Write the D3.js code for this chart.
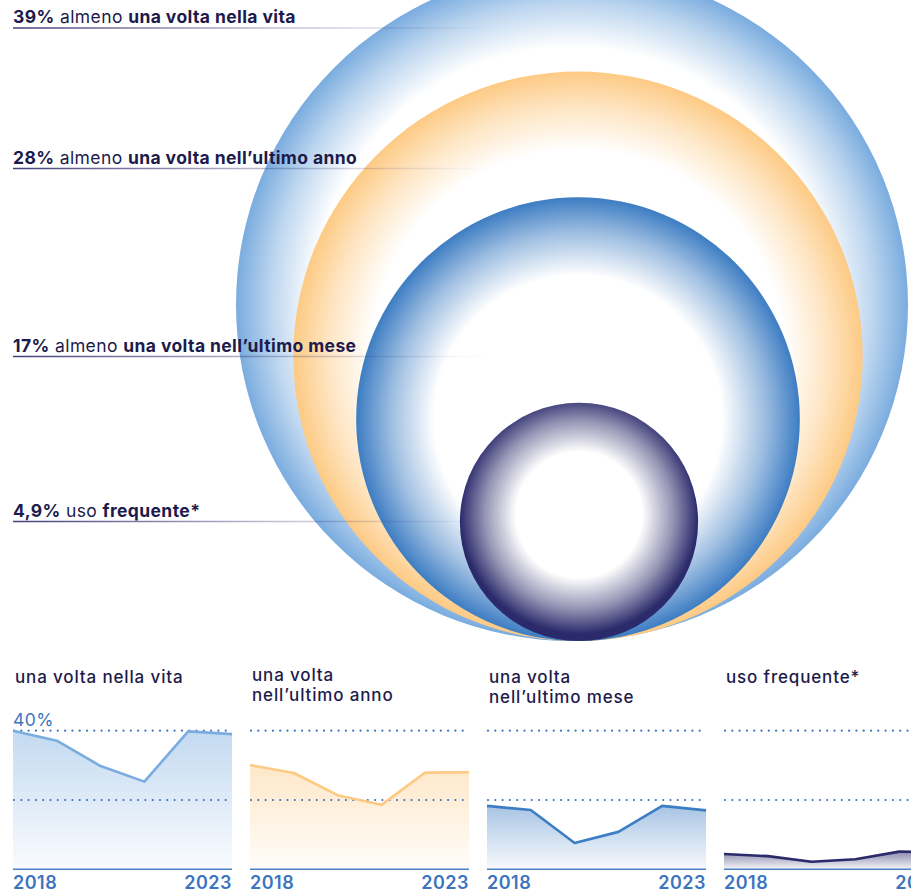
<!DOCTYPE html>
<html>
<head>
<meta charset="utf-8">
<script src="https://cdn.jsdelivr.net/npm/d3@7"></script>
<style>
  html, body { margin: 0; padding: 0; background: #fff; }
  svg { display: block; font-family: Inter, "Noto Sans", sans-serif; }
</style>
</head>
<body>
<svg id="chart" width="911" height="895"></svg>
<script>
// Share of people who ever used, used in the last year, last month, frequently
const headlineValues = [39, 28, 17, 4.9];
const headlineLabels = ["39%", "28%", "17%", "4,9%"];
const headlinePrefix = ["almeno", "almeno", "almeno", "uso"];
const headlineBold = ["una volta nella vita", "una volta nell’ultimo anno", "una volta nell’ultimo mese", "frequente*"];
const ringColors = ["#7aacdf", "#fdca84", "#3d7dc3", "#2b2a6b"];

// Trend 2018–2023 for each indicator (percent)
const years = [2018, 2019, 2020, 2021, 2022, 2023];
const trendLifetime = [40, 37.1, 29.8, 25.3, 39.8, 39];
const trendLastYear = [30.1, 27.8, 21.4, 18.6, 27.9, 28];
const trendLastMonth = [18.3, 17.1, 7.6, 10.8, 18.3, 17];
const trendFrequent = [4.4, 3.8, 2.2, 2.9, 5.1, 4.9];
const panelTitles = [["una volta nella vita"], ["una volta", "nell’ultimo anno"], ["una volta", "nell’ultimo mese"], ["uso frequente*"]];
const gridTicks = [20, 40];
const yearLabels = ["2018", "2023"];

const svg = d3.select("#chart");
const defs = svg.append("defs");
const ink = "#1d1b4c";
const axisBlue = "#3d74c0";

// ---------- nested circles (area proportional to value) ----------
const r = d3.scaleSqrt().domain([0, 39]).range([0, 336]);
const baseY = 641;
const centerX = [572, 578, 578, 579];

headlineValues.forEach((v, i) => {
  const rad = r(v);
  const g = defs.append("radialGradient").attr("id", "ring" + i)
    .attr("cx", "50%").attr("cy", i === 3 ? "47%" : "50%").attr("r", "50%");
  const fade = i === 3 ? 0.47 : 78 / rad;
  g.append("stop").attr("offset", 0).attr("stop-color", "#fff");
  g.append("stop").attr("offset", Math.max(0, 1 - fade)).attr("stop-color", "#fff");
  g.append("stop").attr("offset", 1 - fade * 0.45)
    .attr("stop-color", d3.interpolateRgb("#fff", ringColors[i])(0.5));
  g.append("stop").attr("offset", 1).attr("stop-color", ringColors[i]);
});

const ringsBack = svg.append("g");
const labelLayer = svg.append("g");
const ringsFront = svg.append("g");

headlineValues.forEach((v, i) => {
  const target = i === 3 ? ringsFront : ringsBack;
  target.append("circle")
    .attr("cx", centerX[i])
    .attr("cy", baseY - r(v))
    .attr("r", r(v))
    .attr("fill", `url(#ring${i})`);
});

// ---------- headline labels with fading rules ----------
const ruleGrad = defs.append("linearGradient").attr("id", "rule")
  .attr("gradientUnits", "userSpaceOnUse").attr("x1", 13).attr("x2", 488).attr("y1", 0).attr("y2", 0);
ruleGrad.append("stop").attr("offset", 0).attr("stop-color", "#2b2a6b").attr("stop-opacity", 0.9);
ruleGrad.append("stop").attr("offset", 0.55).attr("stop-color", "#2b2a6b").attr("stop-opacity", 0.3);
ruleGrad.append("stop").attr("offset", 1).attr("stop-color", "#2b2a6b").attr("stop-opacity", 0);

const ruleY = [28, 168.5, 356.5, 521.5];
headlineValues.forEach((v, i) => {
  labelLayer.append("line")
    .attr("x1", 13).attr("x2", 488)
    .attr("y1", ruleY[i]).attr("y2", ruleY[i])
    .attr("stroke", "url(#rule)").attr("stroke-width", 1.4);
  const t = labelLayer.append("text")
    .attr("x", 13).attr("y", ruleY[i] - 5)
    .attr("fill", ink).attr("font-size", 17.5).attr("letter-spacing", 0.4);
  t.append("tspan").attr("font-weight", 700).text(headlineLabels[i]);
  t.append("tspan").attr("font-weight", 400).text(" " + headlinePrefix[i] + " ");
  t.append("tspan").attr("font-weight", 700).text(headlineBold[i]);
});

// ---------- small multiples ----------
const trends = [trendLifetime, trendLastYear, trendLastMonth, trendFrequent];
const panelW = 219, panelStep = 237, panelX0 = 13;
const y = d3.scaleLinear().domain([0, 40]).range([869.3, 730.7]);

trends.forEach((series, i) => {
  const x0 = panelX0 + i * panelStep;
  const x = d3.scalePoint().domain(years).range([x0, x0 + panelW]);
  const g = svg.append("g");
  const col = ringColors[i];

  const ag = defs.append("linearGradient").attr("id", "area" + i)
    .attr("x1", 0).attr("x2", 0).attr("y1", 0).attr("y2", 1);
  ag.append("stop").attr("offset", 0).attr("stop-color", col).attr("stop-opacity", i === 3 ? 0.55 : 0.45);
  ag.append("stop").attr("offset", 1).attr("stop-color", col).attr("stop-opacity", 0.04);

  const pts = years.map((yr, j) => [yr, series[j]]);
  g.append("path")
    .attr("d", d3.area().x(d => x(d[0])).y0(y(0)).y1(d => y(d[1]))(pts))
    .attr("fill", `url(#area${i})`);

  gridTicks.forEach(t => {
    g.append("line")
      .attr("x1", x0 + 1).attr("x2", x0 + panelW)
      .attr("y1", y(t)).attr("y2", y(t))
      .attr("stroke", axisBlue).attr("stroke-width", 2.2)
      .attr("stroke-linecap", "round")
      .attr("stroke-dasharray", "0 7.3");
  });

  g.append("path")
    .attr("d", d3.line().x(d => x(d[0])).y(d => y(d[1]))(pts))
    .attr("fill", "none").attr("stroke", col).attr("stroke-width", 2.6)
    .attr("stroke-linejoin", "round");

  g.append("line")
    .attr("x1", x0).attr("x2", x0 + panelW)
    .attr("y1", y(0)).attr("y2", y(0))
    .attr("stroke", "#4a80c6").attr("stroke-width", 1.6);

  const titleTop = i === 1 ? 681 : 683;
  panelTitles[i].forEach((line, k) => {
    g.append("text")
      .attr("x", x0 + 2)
      .attr("y", titleTop + k * 19.5)
      .attr("fill", ink).attr("font-size", 17).attr("font-weight", 500)
      .attr("letter-spacing", 0.85)
      .text(line);
  });

  g.append("text").attr("x", x0).attr("y", 889)
    .attr("fill", axisBlue).attr("font-size", 18).attr("font-weight", 600)
    .attr("letter-spacing", 0.5)
    .text(yearLabels[0]);
  g.append("text").attr("x", x0 + panelW).attr("y", 889)
    .attr("text-anchor", "end")
    .attr("fill", axisBlue).attr("font-size", 18).attr("font-weight", 600)
    .attr("letter-spacing", 0.5)
    .text(yearLabels[1]);

  if (i === 0) {
    g.append("text").attr("x", x0).attr("y", y(40) - 5)
      .attr("fill", axisBlue).attr("font-size", 17.5).attr("font-weight", 400)
      .attr("letter-spacing", 0.5)
      .text(d3.max(gridTicks) + "%");
  }
});
</script>
</body>
</html>
